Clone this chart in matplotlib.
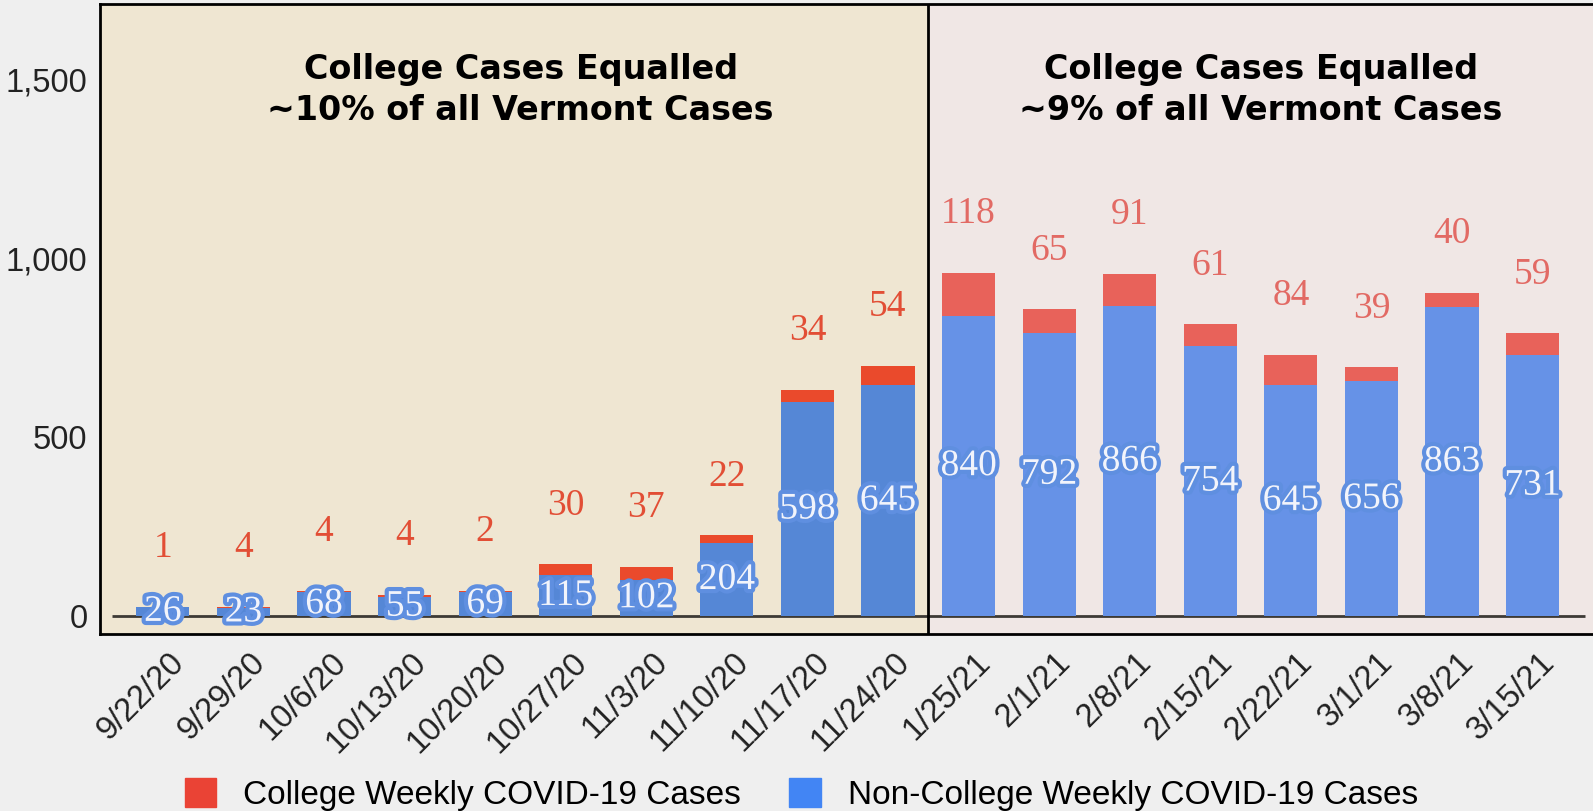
import numpy as np
import matplotlib
matplotlib.use("Agg")
import matplotlib.pyplot as plt
import matplotlib.patches as patches
import matplotlib.patheffects as pe
import matplotlib.transforms as mtransforms

weeks = ['9/22/20', '9/29/20', '10/6/20', '10/13/20', '10/20/20', '10/27/20',
         '11/3/20', '11/10/20', '11/17/20', '11/24/20', '1/25/21', '2/1/21',
         '2/8/21', '2/15/21', '2/22/21', '3/1/21', '3/8/21', '3/15/21']
college = [1, 4, 4, 4, 2, 30, 37, 22, 34, 54, 118, 65, 91, 61, 84, 39, 40, 59]
non_college = [26, 23, 68, 55, 69, 115, 102, 204, 598, 645,
               840, 792, 866, 754, 645, 656, 863, 731]
panel_titles = ['College Cases Equalled\n~10% of all Vermont Cases',
                'College Cases Equalled\n~9% of all Vermont Cases']
n_fall = 10

fig = plt.figure(figsize=(15.93, 8.11), dpi=100, facecolor='#EFEFEF')
ax = fig.add_axes([100 / 1593, 0.218, 1 - 100 / 1593, 0.777])

x = np.arange(len(weeks))
split = n_fall - 0.5
xmin, xmax = -0.78, 17.75

# panel backgrounds
ax.axvspan(xmin, split, color='#EFE6D2', zorder=0)
ax.axvspan(split, xmax, color='#F0E7E5', zorder=0)
ax.axvline(split, color='black', lw=2, zorder=5)

blue = ['#5587D6' if i < n_fall else '#6692E7' for i in x]
red = ['#EA4A2C' if i < n_fall else '#E8625A' for i in x]
red_txt = ['#E24E35' if i < n_fall else '#E26A64' for i in x]

ax.hlines(0, -0.63, 17.65, color='#3d3a35', lw=2, zorder=1)
ax.bar(x, non_college, width=0.66, color=blue, zorder=2)
ax.bar(x, college, width=0.66, bottom=non_college, color=red, zorder=2)

for i in x:
    total = non_college[i] + college[i]
    ax.text(i, total + 165, str(college[i]), ha='center', va='center',
            fontsize=27, family='Liberation Serif', color=red_txt[i], zorder=4)
    ax.text(i, non_college[i] / 2, str(non_college[i]), ha='center', va='center',
            fontsize=27, family='Liberation Serif', color='#F2F4FB', zorder=4,
            path_effects=[pe.withStroke(linewidth=6, foreground='#5F8FE0')])

ax.text((xmin + split) / 2 + 0.08, 1470, panel_titles[0], ha='center', va='center',
        fontsize=24, fontweight='bold', family='DejaVu Sans', linespacing=1.3)
ax.text((split + xmax) / 2, 1470, panel_titles[1], ha='center', va='center',
        fontsize=24, fontweight='bold', family='DejaVu Sans', linespacing=1.3)

ax.set_xlim(xmin, xmax)
ax.set_ylim(-50, 1710)
ax.set_yticks([0, 500, 1000, 1500])
ax.set_yticklabels(['0', '500', '1,000', '1,500'])
ax.set_xticks(x)
ax.set_xticklabels(weeks, rotation=45, ha='right')
ax.tick_params(length=0, labelcolor='#222222', pad=8)
ax.tick_params(axis='y', labelsize=23.5, pad=9)
ax.tick_params(axis='x', labelsize=23.5, pad=9)
offset = mtransforms.ScaledTranslation(28 / 100, 0, fig.dpi_scale_trans)
for lab in ax.get_xticklabels():
    lab.set_family('Liberation Sans')
    lab.set_transform(lab.get_transform() + offset)
for lab in ax.get_yticklabels():
    lab.set_family('Liberation Sans')

for side in ['left', 'top', 'bottom']:
    ax.spines[side].set_linewidth(2)
    ax.spines[side].set_color('black')
ax.spines['right'].set_visible(False)

handles = [patches.Patch(color='#EA4335', label='College Weekly COVID-19 Cases'),
           patches.Patch(color='#4285F4', label='Non-College Weekly COVID-19 Cases')]
fig.legend(handles=handles, loc='lower center', bbox_to_anchor=(0.503, -0.037), ncol=2,
           frameon=False, prop={'family': 'Liberation Sans', 'size': 24},
           handlelength=0.95, handleheight=0.95, columnspacing=1.45, handletextpad=0.8)

fig.savefig('out.png', dpi=100, facecolor=fig.get_facecolor())
